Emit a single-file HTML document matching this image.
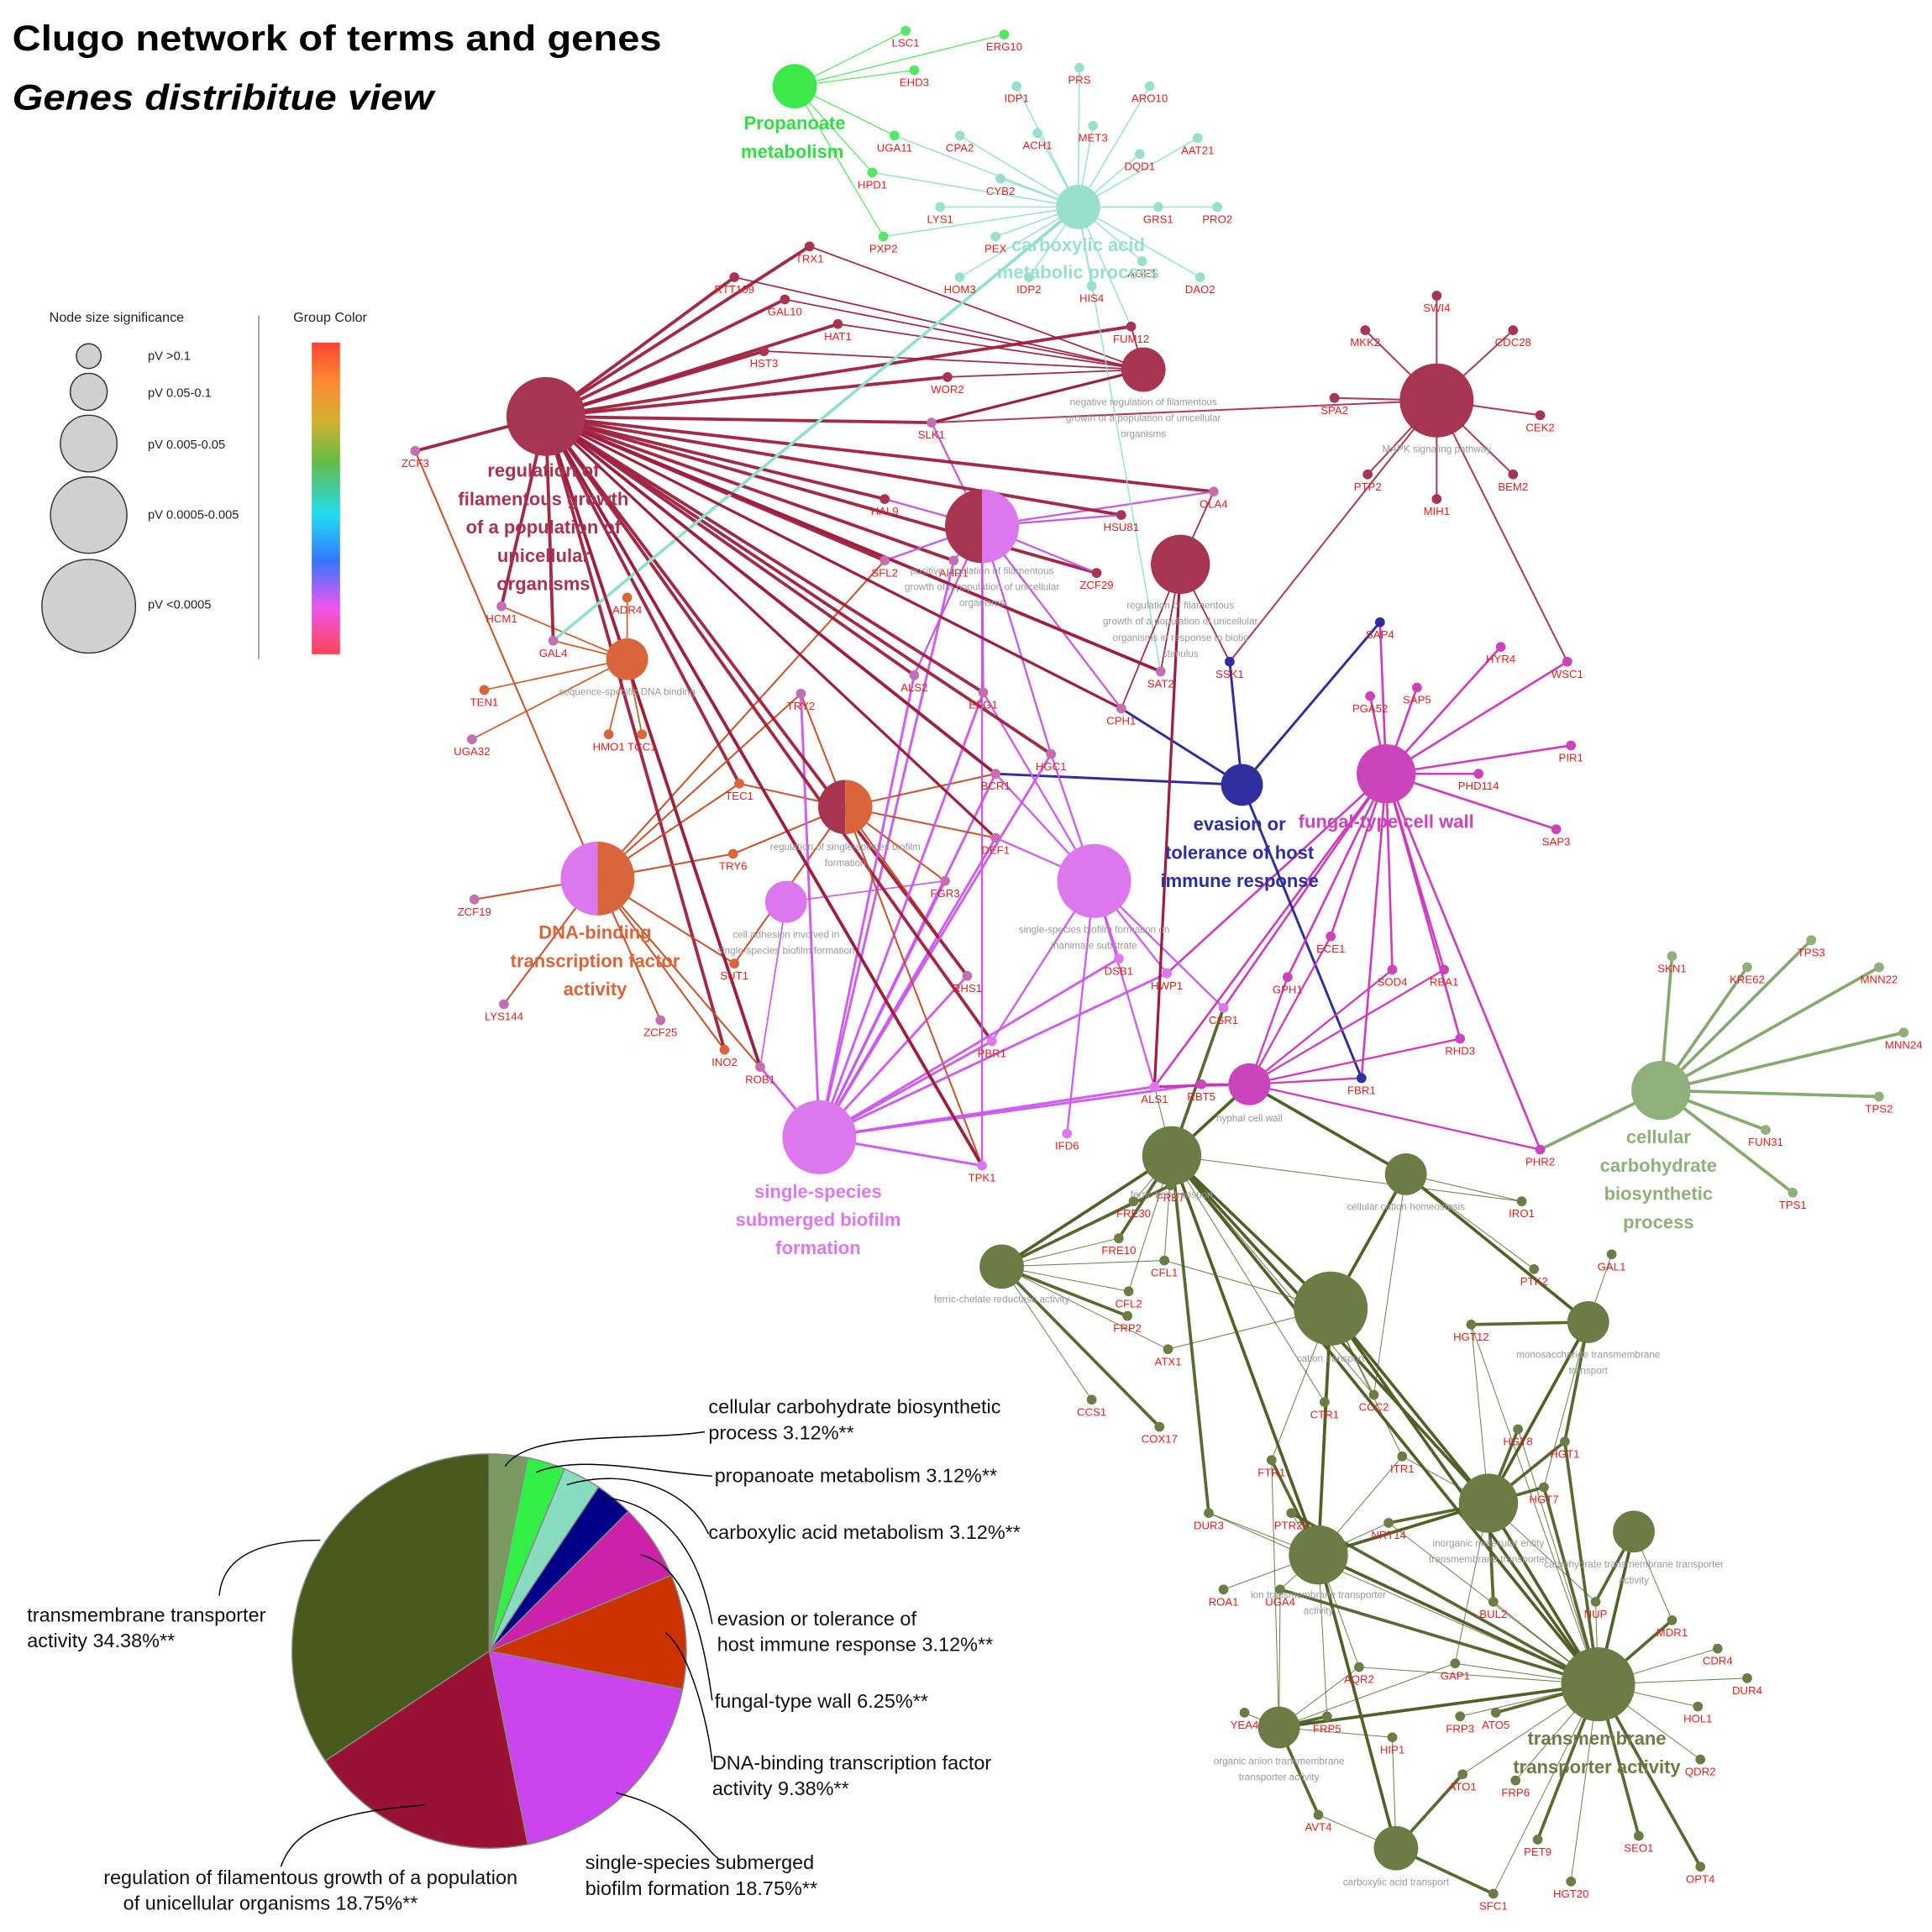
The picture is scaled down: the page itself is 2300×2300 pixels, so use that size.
<!DOCTYPE html>
<html><head><meta charset="utf-8"><style>
html,body{margin:0;padding:0;background:#fff;}
svg{display:block;font-family:"Liberation Sans",sans-serif;}
</style></head><body>
<svg id="s" width="2300" height="2300" viewBox="0 0 1568 1568" xmlns="http://www.w3.org/2000/svg">
<defs>
<linearGradient id="gc" x1="0" y1="0" x2="0" y2="1">
<stop offset="0" stop-color="#ff4433"/><stop offset="0.12" stop-color="#ff8833"/><stop offset="0.25" stop-color="#d4b030"/><stop offset="0.38" stop-color="#66bb44"/><stop offset="0.55" stop-color="#22ddee"/><stop offset="0.7" stop-color="#3377ff"/><stop offset="0.85" stop-color="#ee55ee"/><stop offset="1" stop-color="#ff4455"/>
</linearGradient>
</defs>
<text x="10" y="41" font-size="29" font-weight="bold" fill="#000" textLength="527" lengthAdjust="spacingAndGlyphs">Clugo network of terms and genes</text>
<text x="10" y="89" font-size="29" font-weight="bold" font-style="italic" fill="#000" textLength="342" lengthAdjust="spacingAndGlyphs">Genes distribitue view</text>
<!-- legend -->
<text x="40" y="261" font-size="11" fill="#222">Node size significance</text>
<text x="238" y="261" font-size="11" fill="#222">Group Color</text>
<line x1="210" y1="256" x2="210" y2="535" stroke="#888" stroke-width="1"/>
<rect x="253" y="278" width="23" height="253" fill="url(#gc)"/>
<g fill="#d0d0d0" stroke="#333" stroke-width="1">
<circle cx="72" cy="289" r="10"/><circle cx="72" cy="318" r="15"/><circle cx="72" cy="360" r="23"/><circle cx="72" cy="418" r="31"/><circle cx="72" cy="492" r="38"/>
</g>
<g font-size="10" fill="#222">
<text x="120" y="292">pV &gt;0.1</text><text x="120" y="322">pV 0.05-0.1</text><text x="120" y="364">pV 0.005-0.05</text><text x="120" y="421">pV 0.0005-0.005</text><text x="120" y="494">pV &lt;0.0005</text>
</g>
<g id="edges"></g>
<g id="nodes"></g>
<g id="labels" font-size="9" fill="#e02020" text-anchor="middle"></g>
<!-- hub labels -->
<g font-weight="bold" font-size="15" text-anchor="middle">
<text x="645" y="105" fill="#33dd44">Propanoate</text><text x="643" y="128" fill="#33dd44">metabolism</text>
<text x="875" y="204" fill="#99e0cc">carboxylic acid</text><text x="875" y="226" fill="#99e0cc">metabolic process</text>
<g fill="#a73451"><text x="441" y="387">regulation of</text><text x="441" y="410">filamentous growth</text><text x="441" y="433">of a population of</text><text x="441" y="456">unicellular</text><text x="441" y="479">organisms</text></g>
<g fill="#d9653b"><text x="483" y="762">DNA-binding</text><text x="483" y="785">transcription factor</text><text x="483" y="808">activity</text></g>
<g fill="#dd77ee"><text x="664" y="972">single-species</text><text x="664" y="995">submerged biofilm</text><text x="664" y="1018">formation</text></g>
<g fill="#2e2e9e"><text x="1006" y="674">evasion or</text><text x="1006" y="697">tolerance of host</text><text x="1006" y="720">immune response</text></g>
<text x="1125" y="672" fill="#cc44bb">fungal-type cell wall</text>
<g fill="#8fb07a"><text x="1346" y="928">cellular</text><text x="1346" y="951">carbohydrate</text><text x="1346" y="974">biosynthetic</text><text x="1346" y="997">process</text></g>
<g fill="#6b7d45"><text x="1296" y="1416">transmembrane</text><text x="1296" y="1439">transporter activity</text></g>
</g>
<g font-size="8" fill="#999" text-anchor="middle">
<text x="928" y="329">negative regulation of filamentous</text><text x="928" y="342">growth of a population of unicellular</text><text x="928" y="355">organisms</text>
<text x="1166" y="367">MAPK signaling pathway</text>
<text x="797" y="466">positive regulation of filamentous</text><text x="797" y="479">growth of a population of unicellular</text><text x="797" y="492">organisms</text>
<text x="958" y="494">regulation of filamentous</text><text x="958" y="507">growth of a population of unicellular</text><text x="958" y="520">organisms in response to biotic</text><text x="958" y="533">stimulus</text>
<text x="509" y="564">sequence-specific DNA binding</text>
<text x="686" y="690">regulation of single-species biofilm</text><text x="686" y="703">formation</text>
<text x="638" y="761">cell adhesion involved in</text><text x="638" y="774">single-species biofilm formation</text>
<text x="888" y="757">single-species biofilm formation on</text><text x="888" y="770">inanimate substrate</text>
<text x="1014" y="910">hyphal cell wall</text>
<text x="951" y="972">ferric iron transport</text>
<text x="1141" y="982">cellular cation homeostasis</text>
<text x="813" y="1057">ferric-chelate reductase activity</text>
<text x="1080" y="1105">cation transport</text>
<text x="1289" y="1102">monosaccharide transmembrane</text><text x="1289" y="1115">transport</text>
<text x="1208" y="1255">inorganic molecular entity</text><text x="1208" y="1268">transmembrane transporter</text>
<text x="1070" y="1297">ion transmembrane transporter</text><text x="1070" y="1310">activity</text>
<text x="1326" y="1272">carbohydrate transmembrane transporter</text><text x="1326" y="1285">activity</text>
<text x="1038" y="1432">organic anion transmembrane</text><text x="1038" y="1445">transporter activity</text>
<text x="1133" y="1530">carboxylic acid transport</text>
</g>
<!-- pie -->
<g id="pie" stroke="#888" stroke-width="1"></g>
<g fill="none" stroke="#000" stroke-width="1">
<path d="M410 1190 C430 1160 520 1170 572 1162"/>
<path d="M435 1195 C470 1180 530 1195 578 1198"/>
<path d="M460 1205 C510 1190 560 1210 575 1245"/>
<path d="M488 1215 C540 1220 568 1260 578 1318"/>
<path d="M520 1262 C555 1270 570 1320 578 1380"/>
<path d="M540 1325 C560 1340 575 1400 578 1430"/>
<path d="M500 1455 C560 1470 570 1500 585 1510"/>
<path d="M345 1465 C280 1470 240 1480 228 1515"/>
<path d="M260 1250 C200 1250 180 1270 178 1295"/>
</g>
<g font-size="16" fill="#111">
<text x="575" y="1147">cellular carbohydrate biosynthetic</text><text x="575" y="1168">process 3.12%**</text>
<text x="580" y="1203">propanoate metabolism 3.12%**</text>
<text x="575" y="1249">carboxylic acid metabolism 3.12%**</text>
<text x="582" y="1319">evasion or tolerance of</text><text x="582" y="1340">host immune response 3.12%**</text>
<text x="580" y="1386">fungal-type wall 6.25%**</text>
<text x="578" y="1436">DNA-binding transcription factor</text><text x="578" y="1457">activity 9.38%**</text>
<text x="475" y="1517">single-species submerged</text><text x="475" y="1538">biofilm formation 18.75%**</text>
<text x="84" y="1529">regulation of filamentous growth of a population</text><text x="100" y="1550">of unicellular organisms 18.75%**</text>
<text x="22" y="1316">transmembrane transporter</text><text x="22" y="1337">activity 34.38%**</text>
</g>
<script>
var seed=7;function rnd(){seed=(seed*16807)%2147483647;return seed/2147483647;}
var H={P:[645,70,18,'#3de94b'],C:[875,168,18,'#99e0cc'],R:[443,338,32,'#a73451'],N:[928,300,18,'#a73451'],M:[1166,325,30,'#a73451'],Q:[797,427,30,'half','#a73451','#dd77ee'],S:[958,458,24,'#a73451'],D:[509,535,17,'#d9653b'],E:[1008,637,17,'#2e2e9e'],F:[1125,628,24,'#cc44bb'],O:[686,655,22,'half','#a73451','#d9653b'],T:[485,713,30,'half','#dd77ee','#d9653b'],V:[638,732,17,'#dd77ee'],B:[888,715,30,'#dd77ee'],W:[665,923,30,'#dd77ee'],X:[1014,880,17,'#cc44bb'],K:[1348,885,24,'#8fb07a'],
a:[951,938,24,'#6b7d45'],b:[1141,953,17,'#6b7d45'],c:[813,1028,18,'#6b7d45'],d:[1080,1062,30,'#6b7d45'],e:[1289,1073,17,'#6b7d45'],f:[1208,1220,24,'#6b7d45'],g:[1070,1262,24,'#6b7d45'],h:[1326,1243,17,'#6b7d45'],i:[1297,1367,30,'#6b7d45'],j:[1038,1402,17,'#6b7d45'],k:[1133,1500,18,'#6b7d45']};
var EC={P:'#3de94b',C:'#8fe0cc',R:'#9e1f3d',N:'#9e1f3d',M:'#a73451',Q:'#c455e0',S:'#9e1f3d',D:'#d0541f',E:'#22229a',F:'#cc33bb',O:'#c84a20',T:'#c84a20',V:'#cc55ee',B:'#cc55ee',W:'#cc55ee',X:'#cc33bb',K:'#7fa466'};
var EW={R:2.6,W:2,B:1.6,Q:1.6,N:1.2,S:1.2,E:2,F:1.8,X:1.6,K:2.5,T:1.4,O:1.4,C:1,P:0.8,M:1.4,D:1.2,V:1.2};
var G="LSC1 735 25 P P;ERG10 815 28 P P;EHD3 742 57 P P;UGA11 726 110 PC P;HPD1 708 140 PC P;PXP2 717 192 PC P;IDP1 825 70 C C;PRS 876 55 C C;ARO10 933 70 C C;MET3 887 102 C C;AAT21 972 112 C C;ACH1 842 108 C C;DQD1 925 125 C C;CPA2 779 110 C C;CYB2 812 145 C C;LYS1 763 168 C C;GRS1 940 168 C C;PRO2 988 168 C C;PEX 808 192 C C;HOM3 779 225 C C;IDP2 835 225 C C;HIS4 886 232 C C;AGE1 927 212 C C;DAO2 974 225 C C;"+
"TRX1 657 200 RN R;RTT109 596 225 RN R;GAL10 637 243 RN R;HAT1 680 263 RN R;HST3 620 285 RN R;FUM12 918 265 RNC R;WOR2 769 306 RN R;SLK1 756 343 RQM Q;HAL9 718 405 RQ R;ZCF3 337 366 RT Q;OLA4 985 399 RQS Q;HSU81 910 418 RQ R;ZCF29 890 465 RQ R;SAT2 942 545 CRS Q;AHR1 774 455 RQW Q;SFL2 718 455 RQT Q;"+
"HCM1 407 492 DR Q;ADR4 509 485 D D;GAL4 449 520 DRC Q;TEN1 393 560 D D;UGA32 383 600 D Q;HMO1 494 596 D D;TCC1 521 596 D D;ZCF19 385 730 T Q;LYS144 409 815 T Q;ZCF25 536 828 T Q;INO2 588 852 TR D;SUT1 596 782 TO D;TRY6 595 693 TO D;TEC1 600 636 TOR D;ROB1 617 866 TVWR Q;TRY2 650 563 TOW Q;BCR1 808 628 OWBRE Q;DEF1 808 680 OWB Q;FGR3 767 715 OWV Q;RHS1 785 792 OWR Q;ALS2 742 548 QWR Q;"+
"EFG1 798 562 QWBR Q;HGC1 853 612 QWBR Q;CPH1 910 575 SQE Q;PBR1 805 845 WBR V;IFD6 866 920 B V;TPK1 797 946 WROQ V;DSB1 908 778 WB V;HWP1 947 790 WBF V;CSR1 993 818 BFa V;ALS1 937 882 WBFXa V;RBT5 975 880 XW F;FBR1 1105 875 EFX E;"+
"SAP4 1120 505 EF E;SSK1 998 537 ESM E;HYR4 1218 525 F F;SAP5 1150 558 F F;PGA52 1112 565 F F;WSC1 1272 537 FM F;PIR1 1275 605 F F;PHD114 1200 628 F F;SAP3 1263 673 F F;ECE1 1080 760 FX F;SOD4 1130 787 FX F;RBA1 1172 787 FX F;RHD3 1185 843 FX F;PHR2 1250 933 FXK F;GPH1 1045 793 FX F;"+
"SWI4 1166 240 M M;MKK2 1108 268 M M;CDC28 1228 268 M M;SPA2 1083 323 M M;CEK2 1250 337 M M;PTP2 1110 385 M M;BEM2 1228 385 M M;MIH1 1166 405 M M;"+
"SKN1 1357 776 K K;KRE62 1418 785 K K;TPS3 1470 763 K K;MNN22 1525 785 K K;MNN24 1545 838 K K;TPS2 1525 890 K K;FUN31 1433 917 K K;TPS1 1455 968 K K;"+
"FRE7 950 962 ac a;FRE30 920 975 ac a;FRE10 908 1005 ac a;CFL1 945 1023 acd a;CFL2 916 1048 ac a;FRP2 915 1068 c a;ATX1 948 1095 cd a;CCS1 886 1136 c a;COX17 941 1158 c a;IRO1 1235 975 ab a;PTK2 1245 1030 b a;GAL1 1308 1018 e a;HGT12 1194 1075 efi a;CTR1 1075 1138 dag a;CCC2 1115 1132 dab a;HGT8 1232 1160 fi a;HGT1 1270 1170 fei a;FTR1 1032 1185 dgj a;ITR1 1138 1182 dgf a;HGT7 1253 1207 fie a;DUR3 981 1228 gia a;PTR22 1048 1228 gi a;NRT14 1127 1236 gfi a;ROA1 993 1290 g a;UGA4 1039 1290 gij a;BUL2 1212 1300 fi a;NUP 1295 1300 fhi a;MDR1 1357 1315 hi a;CDR4 1394 1338 i a;DUR4 1418 1362 i a;HOL1 1378 1385 i a;QDR2 1380 1428 i a;AQR2 1103 1353 jgi a;GAP1 1181 1350 fij a;YEA4 1010 1390 j a;FRP5 1077 1393 jg a;FRP3 1185 1393 i a;ATO5 1214 1390 i a;HIP1 1130 1410 kj a;ATO1 1187 1440 ik a;FRP6 1230 1445 i a;AVT4 1070 1473 jk a;PET9 1248 1493 i a;SEO1 1330 1490 i a;HGT20 1275 1527 i a;OPT4 1380 1515 i a;SFC1 1212 1537 ik a";
var NS='http://www.w3.org/2000/svg';
function el(t,a,p){var e=document.createElementNS(NS,t);for(var k in a)e.setAttribute(k,a[k]);p.appendChild(e);return e;}
var eg=document.getElementById('edges'),ng=document.getElementById('nodes'),lg=document.getElementById('labels');
var extra=[['C','GAL4'],['R','BCR1'],['R','TPK1'],['R','ROB1'],['R','DEF1'],['R','CPH1'],['R','SAT2'],['N','SLK1'],['S','ALS1'],['X','ALS1']];
var genes=G.split(';').map(function(s){var p=s.split(' ');return {n:p[0],x:+p[1],y:+p[2],h:p[3],c:p[4]};});
genes.forEach(function(g){
 g.h.split('').forEach(function(k){var h=H[k];if(!h)return;var olive='abcdefghijk'.indexOf(k)>=0;
 var w=olive?(rnd()<0.35?2.5:0.7):(EW[k]||1);
 el('line',{x1:h[0],y1:h[1],x2:g.x,y2:g.y,stroke:olive?'#4f6126':EC[k],'stroke-width':w,'stroke-opacity':olive&&w<1?0.8:0.95},eg);});
});
var hh=[['a','d'],['a','g'],['b','d'],['d','f'],['d','g'],['g','i'],['f','i'],['a','f'],['c','a'],['g','k'],['j','i'],['d','i'],['a','i'],['b','e'],['X','a'],['X','b'],['e','f'],['h','i'],['f','g']];
hh.forEach(function(p){var A=H[p[0]],B=H[p[1]];el('line',{x1:A[0],y1:A[1],x2:B[0],y2:B[1],stroke:'#4f6126','stroke-width':2.5},eg);});
var gm={};genes.forEach(function(g){gm[g.n]=g;});
extra.forEach(function(p){var h=H[p[0]],g=gm[p[1]];el('line',{x1:h[0],y1:h[1],x2:g.x,y2:g.y,stroke:EC[p[0]],'stroke-width':p[0]=='C'?2.5:2.2},eg);});
var GC={P:'#55e866',C:'#99e0cc',R:'#a73451',Q:'#c36fb0',D:'#d9653b',V:'#dd77ee',E:'#2e2e9e',F:'#cc44bb',M:'#a73451',K:'#8fb07a',a:'#6b7d45'};
genes.forEach(function(g){el('circle',{cx:g.x,cy:g.y,r:4,fill:GC[g.c]||'#888'},ng);var t=el('text',{x:g.x,y:g.y+13},lg);t.textContent=g.n;});
for(var k in H){var h=H[k];
 if(h[3]=='half'){el('path',{d:'M'+h[0]+' '+(h[1]-h[2])+'A'+h[2]+' '+h[2]+' 0 0 0 '+h[0]+' '+(h[1]+h[2])+'Z',fill:h[4]},ng);
  el('path',{d:'M'+h[0]+' '+(h[1]-h[2])+'A'+h[2]+' '+h[2]+' 0 0 1 '+h[0]+' '+(h[1]+h[2])+'Z',fill:h[5]},ng);}
 else el('circle',{cx:h[0],cy:h[1],r:h[2],fill:h[3]},ng);}
var pg=document.getElementById('pie'),cx=397,cy=1340,r=160,a0=0;
[[3.12,'#7a9a62'],[3.12,'#33ee44'],[3.12,'#88ddc0'],[3.12,'#000088'],[6.25,'#cc22aa'],[9.38,'#cc3300'],[18.75,'#cc44ee'],[18.75,'#991133'],[34.38,'#475a1c']].forEach(function(s){
 var a1=a0+s[0]/100*2*Math.PI;var x0=cx+r*Math.sin(a0),y0=cy-r*Math.cos(a0),x1=cx+r*Math.sin(a1),y1=cy-r*Math.cos(a1);
 el('path',{d:'M'+cx+' '+cy+'L'+x0+' '+y0+'A'+r+' '+r+' 0 '+(a1-a0>Math.PI?1:0)+' 1 '+x1+' '+y1+'Z',fill:s[1]},pg);a0=a1;});
</script>
</svg>
</body></html>
